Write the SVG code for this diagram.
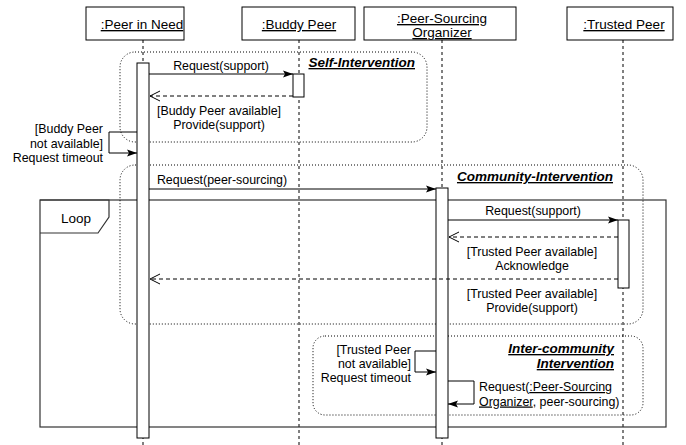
<svg xmlns="http://www.w3.org/2000/svg" width="686" height="445" viewBox="0 0 686 445">
<defs>
<marker id="fill" markerWidth="11" markerHeight="8" refX="10" refY="4" orient="auto" markerUnits="userSpaceOnUse">
<path d="M0,0.5 L10,4 L0,7.5 L2,4 Z" fill="#000"/>
</marker>
<marker id="open" markerWidth="12" markerHeight="12" refX="11" refY="6" orient="auto" markerUnits="userSpaceOnUse">
<path d="M1,1 L11,6 L1,11" fill="none" stroke="#000" stroke-width="1"/>
</marker>
</defs>
<style>
text{font-family:"Liberation Sans",Arial,sans-serif;fill:#000}
.hd{font-size:13.5px;text-anchor:middle;text-decoration:underline}
.msg{font-size:12.4px;text-anchor:middle}
.r{font-size:12.4px;text-anchor:end}
.l{font-size:12.4px;text-anchor:start}
.grp{font-size:13.5px;font-weight:bold;font-style:italic;text-anchor:end;text-decoration:underline}
.box{fill:#fff;stroke:#000;stroke-width:1}
.life{stroke:#000;stroke-width:1;stroke-dasharray:3 3;fill:none}
.dot{fill:none;stroke:#000;stroke-width:1;stroke-dasharray:1 2}
.act{fill:#fff;stroke:#000;stroke-width:1}
.sync{stroke:#000;stroke-width:1;fill:none;marker-end:url(#fill)}
.ret{stroke:#000;stroke-width:1;fill:none;stroke-dasharray:4 3;marker-end:url(#open)}
</style>

<g id="lifelines">
<line class="life" x1="143" y1="40" x2="143" y2="445"/>
<line class="life" x1="299" y1="40" x2="299" y2="445"/>
<line class="life" x1="442" y1="40" x2="442" y2="445"/>
<line class="life" x1="623" y1="40" x2="623" y2="445"/>
</g>

<g id="node-peer-in-need">
<rect class="box" x="86" y="7" width="98" height="33"/>
<text class="hd" x="142" y="29">:Peer in Need</text>
</g>
<g id="node-buddy-peer">
<rect class="box" x="242" y="7" width="113" height="33"/>
<text class="hd" x="299" y="29">:Buddy Peer</text>
</g>
<g id="node-organizer">
<rect class="box" x="364" y="7" width="152" height="33"/>
<text class="hd" x="442" y="23">:Peer-Sourcing</text>
<text class="hd" x="442" y="37">Organizer</text>
</g>
<g id="node-trusted-peer">
<rect class="box" x="567" y="7" width="106" height="33"/>
<text class="hd" x="624" y="29">:Trusted Peer</text>
</g>

<g id="loop-frame">
<rect x="40" y="200" width="626" height="227" fill="none" stroke="#333" stroke-width="1.2"/>
<path d="M40,200 L109,200 L109,217 L98,233 L40,233" fill="none" stroke="#333" stroke-width="1.2"/>
<text x="76" y="223" font-size="13.5" text-anchor="middle">Loop</text>
</g>

<g id="self-intervention">
<rect class="dot" x="120" y="52" width="307" height="90" rx="15" ry="15"/>
<text class="grp" x="415" y="67">Self-Intervention</text>
</g>
<g id="community-intervention">
<rect class="dot" x="120" y="165" width="523" height="159" rx="15" ry="15"/>
<text class="grp" x="613" y="181">Community-Intervention</text>
</g>
<g id="inter-community-intervention">
<rect class="dot" x="313" y="336" width="330" height="79" rx="12" ry="12"/>
<text class="grp" x="614" y="353">Inter-community</text>
<text class="grp" x="614" y="368">Intervention</text>
</g>

<g id="activations">
<rect id="act-peer" class="act" x="137" y="63" width="12" height="375"/>
<rect id="act-buddy" class="act" x="293" y="74" width="11" height="23"/>
<rect id="act-org" class="act" x="436" y="188" width="12" height="250"/>
<rect id="act-trusted" class="act" x="618" y="220" width="11" height="68"/>
</g>

<g id="connectors">
<line class="sync" x1="149" y1="74" x2="293" y2="74"/>
<line class="ret" x1="293" y1="96" x2="150" y2="96"/>
<polyline class="sync" points="137,132 109,132 109,153 137,153"/>
<line class="sync" x1="149" y1="189" x2="436" y2="189"/>
<line class="sync" x1="448" y1="220" x2="618" y2="220"/>
<line class="ret" x1="618" y1="237" x2="449" y2="237"/>
<line class="ret" x1="618" y1="279" x2="150" y2="279"/>
<polyline class="sync" points="436,351 415,351 415,372 436,372"/>
<polyline class="sync" points="448,381 474,381 474,404 448,404"/>
</g>

<g id="labels">
<text class="msg" x="221" y="70">Request(support)</text>
<text class="msg" x="219" y="115">[Buddy Peer available]</text>
<text class="msg" x="219" y="129">Provide(support)</text>
<text class="r" x="103" y="133">[Buddy Peer</text>
<text class="r" x="103" y="147.5">not available]</text>
<text class="r" x="103" y="162">Request timeout</text>
<text class="msg" x="222" y="184">Request(peer-sourcing)</text>
<text class="msg" x="533" y="215">Request(support)</text>
<text class="msg" x="532" y="256">[Trusted Peer available]</text>
<text class="msg" x="532" y="270">Acknowledge</text>
<text class="msg" x="532" y="298">[Trusted Peer available]</text>
<text class="msg" x="532" y="312">Provide(support)</text>
<text class="r" x="411" y="353.5">[Trusted Peer</text>
<text class="r" x="411" y="367.5">not available]</text>
<text class="r" x="411" y="382">Request timeout</text>
<text class="l" x="479" y="391">Request(<tspan text-decoration="underline">:Peer-Sourcing</tspan></text>
<text class="l" x="479" y="405.5"><tspan text-decoration="underline">Organizer</tspan>, peer-sourcing)</text>
</g>
</svg>
